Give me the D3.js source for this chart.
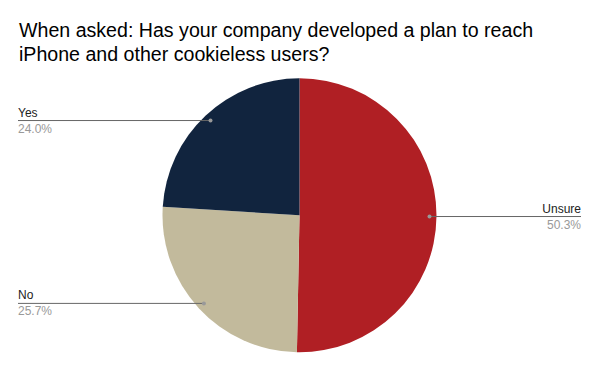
<!DOCTYPE html>
<html>
<head>
<meta charset="utf-8">
<script src="https://cdnjs.cloudflare.com/ajax/libs/d3/7.8.5/d3.min.js"></script>
<style>
  body { margin: 0; background: #fff; }
  svg { display: block; }
</style>
</head>
<body>
<div id="chart"></div>
<script>
// data
var categories = ["Unsure", "No", "Yes"];
var values = [50.3, 25.7, 24.0];
var colors = ["#b01f24", "#c2ba9c", "#11243e"];
var titleLines = ["When asked: Has your company developed a plan to reach",
                  "iPhone and other cookieless users?"];

var W = 600, H = 371;
var cx = 299.5, cy = 215.3, R = 137;

var svg = d3.select("#chart").append("svg")
    .attr("width", W)
    .attr("height", H);

// title
svg.append("g").selectAll("text")
    .data(titleLines)
  .enter().append("text")
    .attr("x", 19)
    .attr("y", function(d, i) { return 37 + i * 24; })
    .style("font-family", "'Liberation Sans', Arial, sans-serif")
    .style("font-size", "19.6px")
    .style("fill", "#000")
    .text(function(d) { return d; });

var slices = categories.map(function(c, i) {
  return { name: c, value: values[i], color: colors[i] };
});

var pie = d3.pie()
    .sort(null)
    .value(function(d) { return d.value; });

var arc = d3.arc().innerRadius(0).outerRadius(R);
var dotArc = d3.arc().innerRadius(R - 7).outerRadius(R - 7);

var arcs = pie(slices);

var g = svg.append("g").attr("transform", "translate(" + cx + "," + cy + ")");

g.selectAll("path.slice")
    .data(arcs)
  .enter().append("path")
    .attr("class", "slice")
    .attr("d", arc)
    .style("fill", function(d) { return d.data.color; });

// leader lines + labels
var total = d3.sum(values);
var labels = svg.append("g");

arcs.forEach(function(a) {
  var p = dotArc.centroid(a);
  var px = cx + p[0], py = cy + p[1];
  var right = px > cx;
  var endX = right ? 581 : 18;

  labels.append("line")
      .attr("x1", px).attr("y1", py)
      .attr("x2", endX).attr("y2", py)
      .style("stroke", "#666")
      .style("stroke-width", 1);

  labels.append("circle")
      .attr("cx", px).attr("cy", py)
      .attr("r", 2)
      .style("fill", "#999");

  labels.append("text")
      .attr("x", endX)
      .attr("y", py - 4)
      .attr("text-anchor", right ? "end" : "start")
      .style("font-family", "'Liberation Sans', Arial, sans-serif")
      .style("font-size", "12px")
      .style("fill", "#222")
      .text(a.data.name);

  labels.append("text")
      .attr("x", endX)
      .attr("y", py + 12)
      .attr("text-anchor", right ? "end" : "start")
      .style("font-family", "'Liberation Sans', Arial, sans-serif")
      .style("font-size", "12px")
      .style("fill", "#999")
      .text(d3.format(".1f")(a.data.value / total * 100) + "%");
});
</script>
</body>
</html>
